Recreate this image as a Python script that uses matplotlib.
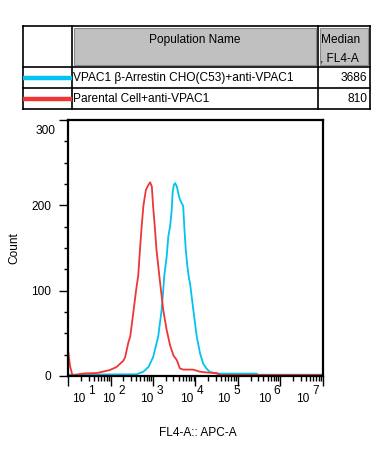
import numpy as np
import matplotlib
matplotlib.use("Agg")
import matplotlib.pyplot as plt
from matplotlib.patches import Rectangle
from matplotlib.lines import Line2D
from matplotlib.ticker import LogLocator, NullFormatter, MultipleLocator
import matplotlib.transforms as mtransforms

plt.rcParams['font.family'] = ['Liberation Sans', 'DejaVu Sans']

# table contents
pop_names = ["VPAC1 \u03b2-Arrestin CHO(C53)+anti-VPAC1", "Parental Cell+anti-VPAC1"]
medians = ["3686", "810"]
colors = ["#00c3f0", "#f03535"]

# histogram traces (log10 of FL4-A, count)
parental_log = [1.00, 1.04, 1.09, 1.13, 1.37, 1.68, 1.98, 2.14, 2.30, 2.34, 2.42, 2.46,
                2.53, 2.60, 2.65, 2.69, 2.73, 2.77, 2.83, 2.89, 2.93, 2.97, 3.00, 3.04,
                3.08, 3.15, 3.24, 3.32, 3.40, 3.48, 3.56, 3.63, 3.71, 3.94, 4.11, 4.29,
                4.50, 4.58, 7.00]
parental_cnt = [28, 12, 2, 1, 3, 3.5, 7, 10.6, 18, 22, 40, 46,
                73, 101, 118, 148, 175, 199, 218, 224, 227, 222, 199, 175,
                148, 116, 77, 54, 36, 24, 18.5, 9, 7.5, 7.5, 5, 4,
                3.5, 1.2, 1.2]

vpac1_log = [1.00, 2.61, 2.77, 2.89, 3.00, 3.12, 3.20, 3.24, 3.26, 3.32, 3.36, 3.40,
             3.44, 3.46, 3.49, 3.52, 3.56, 3.59, 3.63, 3.67, 3.71, 3.74, 3.77, 3.81,
             3.85, 3.87, 3.95, 4.03, 4.11, 4.18, 4.26, 4.34, 4.50, 5.44, 5.47, 7.00]
vpac1_cnt = [1.5, 2, 5, 10.6, 22, 46, 77, 101, 116, 140, 164, 175,
             195, 215, 224, 226, 222, 215, 207, 203, 199, 171, 148, 128,
             113, 109, 77, 46, 26, 14.6, 8.7, 4.7, 2.8, 2.8, 1.5, 1.5]

decades = [1, 2, 3, 4, 5, 6, 7]
# where FlowJo put the "10" part of each decade label (axes fraction, right edge)
dec_label_pos = [0.066, 0.184, 0.334, 0.491, 0.638, 0.796, 0.947]

FS = 8.6
W, H = 381, 457
fig = plt.figure(figsize=(W / 100, H / 100), dpi=100)


def px(x, y):
    return x / W, 1 - y / H


# ---- table on top ----
x0, x1, x2, x3 = 22.7, 71.7, 318.0, 370.0
y0, y1, y2, y3 = 26.0, 66.7, 88.3, 109.0

for (a, b) in [(x1, x2), (x2, x3)]:
    gx, gy = px(a + 2, y1 - 2)
    fig.add_artist(Rectangle((gx, gy), (b - a - 4) / W, (y1 - y0 - 4) / H,
                             transform=fig.transFigure, facecolor="#c0c0c0",
                             edgecolor="#8a8a8a", lw=0.8))

tbl = dict(color="black", lw=1.2, transform=fig.transFigure)
for yy in [y0, y1, y2, y3]:
    fig.add_artist(Line2D([x0 / W, x3 / W], [1 - yy / H] * 2, **tbl))
for xx in [x0, x1, x2, x3]:
    fig.add_artist(Line2D([xx / W] * 2, [1 - y0 / H, 1 - y3 / H], **tbl))

fig.text(*px((x1 + x2) / 2, 40), "Population Name", ha="center", va="center", fontsize=FS)
fig.text(*px(320.5, 40), "Median", ha="left", va="center", fontsize=FS)
fig.text(*px(320.5, 58.5), ", FL4-A", ha="left", va="center", fontsize=FS)

for i, (name, med, c) in enumerate(zip(pop_names, medians, colors)):
    yc = [78.0, 98.8][i]
    fig.add_artist(Line2D([x0 / W, x1 / W], [1 - yc / H] * 2, color=c, lw=3.2,
                          transform=fig.transFigure, solid_capstyle="butt"))
    fig.text(*px(73.3, yc), name, ha="left", va="center", fontsize=FS)
    fig.text(*px(367.0, yc), med, ha="right", va="center", fontsize=FS)

# ---- histogram ----
ax = fig.add_axes([68.3 / W, 1 - 376 / H, 254.4 / W, 256 / H])
ax.plot(10 ** np.array(vpac1_log), vpac1_cnt, color=colors[0], lw=1.3)
ax.plot(10 ** np.array(parental_log), parental_cnt, color=colors[1], lw=1.3)

ax.set_xscale("log")
ax.set_xlim(10, 1e7)
ax.set_ylim(0, 300)

ax.xaxis.set_major_locator(LogLocator(base=10, numticks=20))
ax.xaxis.set_minor_locator(LogLocator(base=10, subs=np.arange(2, 10), numticks=20))
ax.xaxis.set_major_formatter(NullFormatter())
ax.xaxis.set_minor_formatter(NullFormatter())
ax.tick_params(axis="x", which="major", length=7, width=1.0, direction="out")
ax.tick_params(axis="x", which="minor", length=3.5, width=1.0, direction="out")

ax.set_yticks([0, 100, 200, 300])
ax.yaxis.set_minor_locator(MultipleLocator(25))
ax.set_yticklabels(["0", "100", "200", ""], fontsize=FS)
ax.tick_params(axis="y", which="major", length=6.5, width=1.0, pad=6)
ax.tick_params(axis="y", which="minor", length=3, width=1.0)
for s in ax.spines.values():
    s.set_linewidth(1.6)

# the top y label sits lower in the original
off = mtransforms.ScaledTranslation(0, -11.5 / 100, fig.dpi_scale_trans)
ax.text(-0.05, 300, "300", transform=ax.get_yaxis_transform() + off,
        ha="right", va="center", fontsize=FS)

for d, pos in zip(decades, dec_label_pos):
    ax.text(pos, -0.103, "10", transform=ax.transAxes, ha="right",
            va="baseline", fontsize=FS)
    ax.text(pos + 0.012, -0.069, str(d), transform=ax.transAxes, ha="left",
            va="baseline", fontsize=FS)

fig.text(*px(14, 248), "Count", rotation=90, ha="center", va="center", fontsize=FS)
fig.text(*px(198, 433), "FL4-A:: APC-A", ha="center", va="center", fontsize=FS)

fig.savefig("out.png", dpi=100)
